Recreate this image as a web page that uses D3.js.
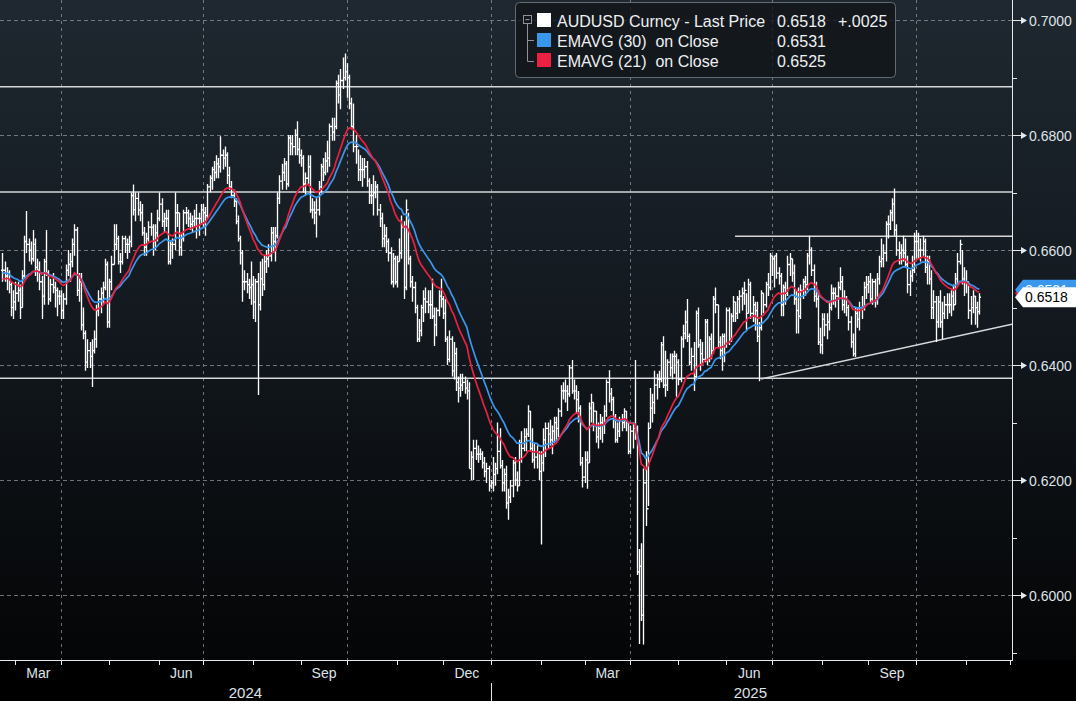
<!DOCTYPE html>
<html><head><meta charset="utf-8">
<script src="https://cdn.jsdelivr.net/npm/d3@7"></script>
<style>html,body{margin:0;padding:0;background:#000;overflow:hidden}text{font-family:"Liberation Sans",Arial,sans-serif;white-space:pre}</style>
</head><body><svg id="c" width="1076" height="701"></svg>
<script>
// ---- DATA (AUDUSD daily bars, pips x1e-4), weekdays starting 2024-02-22 ----
const startDate = "2024-02-22";
const highs = [
6595,6580,
6570,6565,6545,6530,6545, 6545,6540,6565,6625,6668, 6620,6615,6635,6620,6585, 6580,6555,6585,6635,6565,
6550,6560,6545,6535,6530, 6530,6525,6575,6600,6595, 6620,6645,6640,6560,6560, 6500,6460,6445,6440,6445,
6460,6505,6530,6535,6545, 6585,6580,6550,6590,6645, 6645,6625,6595,6625,6625, 6620,6625,6700,6714,6700,
6700,6685,6680,6640,6630, 6650,6665,6645,6645,6670, 6700,6690,6665,6670,6670, 6615,6620,6700,6680,6665,
6630,6670,6675,6670,6665, 6660,6670,6680,6665,6680, 6680,6675,6715,6730,6745, 6755,6765,6760,6798,6775,
6780,6770,6745,6720,6705, 6690,6660,6625,6600,6565, 6560,6550,6580,6555,6550, 6560,6580,6585,6590,6600,
6610,6640,6640,6640,6700, 6730,6750,6760,6755,6800, 6800,6800,6810,6824,6795, 6775,6765,6735,6765,6765,
6690,6685,6690,6720,6750, 6760,6770,6790,6820,6830, 6830,6895,6905,6915,6935, 6942,6925,6905,6865,6855,
6800,6775,6765,6760,6760, 6755,6725,6715,6730,6720, 6715,6680,6665,6645,6640, 6620,6605,6595,6590,6590,
6620,6660,6650,6688,6665, 6590,6555,6545,6505,6480, 6505,6530,6535,6530,6530, 6550,6500,6500,6530,6550,
6520,6515,6450,6460,6450, 6440,6430,6380,6385,6385, 6380,6375,6370,6250,6270, 6270,6260,6255,6250,6240,
6230,6225,6200,6240,6230, 6300,6290,6235,6220,6225, 6185,6200,6235,6240,6215, 6270,6285,6290,6290,6330,
6320,6290,6265,6260,6250, 6250,6290,6300,6300,6305, 6295,6310,6310,6325,6365, 6370,6375,6365,6400,6409,
6375,6365,6355,6330,6240, 6250,6250,6335,6350,6335, 6320,6300,6315,6310,6330, 6375,6391,6360,6345,6315,
6300,6310,6315,6325,6320, 6300,6295,6300,6409,6295, 6080,6090,6220,6250,6300, 6360,6350,6390,6385,6390,
6440,6450,6425,6410,6420, 6420,6425,6420,6410,6450, 6470,6495,6515,6455,6430, 6440,6495,6500,6445,6440,
6480,6480,6450,6455,6520, 6535,6505,6450,6455,6455, 6500,6500,6490,6520,6510, 6520,6530,6535,6545,6525,
6550,6545,6520,6510,6510, 6475,6530,6525,6545,6560, 6595,6590,6590,6595,6570, 6560,6540,6545,6590,6595,
6585,6575,6530,6535,6540, 6550,6555,6595,6625,6605, 6575,6545,6530,6465,6490, 6490,6490,6510,6540,6535,
6535,6545,6570,6555,6530, 6520,6505,6485,6455,6500, 6500,6510,6520,6545,6555, 6555,6560,6550,6550,6560,
6590,6620,6610,6650,6660, 6670,6690,6707,6645,6615, 6610,6625,6620,6590,6565, 6590,6630,6635,6630,6620,
6625,6620,6590,6590,6565, 6530,6520,6520,6530,6510, 6520,6525,6525,6530,6540, 6560,6595,6618,6600,6570,
6565,6545,6520,6530,6520, 6510,6525
];
const lows = [
6545,6545,
6530,6525,6485,6480,6495, 6510,6480,6500,6550,6595, 6580,6575,6580,6555,6545, 6530,6480,6505,6555,6505,
6510,6525,6500,6485,6505, 6480,6480,6505,6555,6545, 6570,6590,6520,6510,6460, 6445,6390,6395,6395,6362,
6420,6430,6485,6490,6505, 6530,6465,6465,6530,6575, 6600,6575,6560,6575,6595, 6585,6595,6605,6660,6650,
6660,6650,6625,6590,6590, 6615,6625,6590,6600,6615, 6650,6640,6630,6640,6575, 6575,6585,6600,6640,6590,
6590,6615,6645,6640,6635, 6630,6640,6620,6625,6645, 6640,6625,6655,6700,6705, 6720,6725,6725,6735,6740,
6745,6715,6705,6690,6675, 6645,6615,6575,6510,6530, 6525,6515,6505,6480,6475, 6348,6495,6520,6530,6560,
6570,6580,6595,6580,6620, 6680,6705,6720,6705,6710, 6765,6765,6765,6765,6750, 6745,6700,6695,6715,6665,
6655,6645,6622,6660,6700, 6720,6730,6735,6745,6790, 6790,6810,6855,6845,6880, 6895,6865,6845,6810,6770,
6750,6720,6720,6710,6725, 6710,6680,6680,6660,6690, 6660,6640,6605,6605,6595, 6580,6540,6535,6540,6535,
6580,6585,6515,6530,6575, 6535,6510,6490,6440,6440, 6450,6475,6490,6490,6480, 6480,6433,6450,6485,6500,
6480,6440,6400,6405,6380, 6375,6355,6335,6345,6355, 6350,6340,6220,6200,6200, 6235,6230,6235,6220,6205,
6195,6180,6185,6180,6190, 6210,6220,6180,6180,6150, 6131,6160,6170,6190,6180, 6190,6230,6250,6250,6275,
6250,6230,6220,6220,6200, 6088,6215,6240,6255,6260, 6245,6265,6270,6275,6310, 6340,6335,6320,6345,6350,
6340,6315,6300,6225,6187, 6195,6185,6230,6300,6285, 6265,6255,6270,6265,6280, 6310,6335,6320,6290,6265,
6265,6275,6285,6290,6285, 6245,6245,6255,6270,6035, 5915,5955,5914,6120,6155, 6290,6300,6315,6340,6360,
6370,6360,6345,6355,6380, 6375,6385,6345,6365,6370, 6430,6445,6440,6400,6390, 6355,6375,6430,6390,6400,
6405,6400,6405,6410,6420, 6490,6430,6410,6390,6405, 6430,6435,6440,6475,6475, 6480,6490,6495,6505,6460,
6490,6480,6475,6460,6440, 6372,6460,6490,6500,6520, 6530,6555,6535,6550,6540, 6485,6485,6505,6520,6555,
6545,6505,6455,6455,6480, 6515,6520,6530,6575,6555, 6510,6500,6435,6420,6419, 6450,6445,6460,6495,6505,
6500,6480,6530,6495,6490, 6485,6460,6430,6415,6414, 6465,6460,6480,6495,6515, 6525,6510,6505,6500,6505,
6540,6570,6570,6580,6620, 6635,6650,6625,6590,6575, 6575,6580,6570,6525,6520, 6545,6560,6585,6585,6580,
6590,6560,6540,6540,6480, 6480,6440,6465,6465,6445, 6480,6480,6490,6485,6495, 6505,6540,6575,6540,6520,
6525,6480,6470,6490,6470, 6465,6488
];
const closes = [
6565,6555,
6560,6540,6500,6510,6525, 6530,6500,6555,6615,6610, 6600,6585,6610,6570,6565, 6545,6520,6580,6560,6515,
6540,6535,6530,6520,6520, 6495,6515,6565,6575,6580, 6610,6635,6530,6545,6470, 6455,6405,6425,6415,6425,
6445,6495,6515,6525,6535, 6575,6475,6545,6575,6610, 6620,6580,6580,6620,6610, 6610,6615,6695,6670,6690,
6670,6665,6630,6605,6620, 6640,6640,6615,6630,6655, 6680,6650,6655,6655,6580, 6610,6610,6665,6665,6605,
6620,6665,6665,6655,6645, 6650,6655,6655,6655,6670, 6665,6660,6710,6725,6740, 6735,6750,6745,6765,6760,
6765,6730,6710,6695,6685, 6650,6620,6595,6545,6545, 6540,6535,6540,6510,6545, 6505,6550,6540,6580,6585,
6590,6630,6615,6625,6690, 6720,6735,6750,6715,6795, 6785,6780,6800,6775,6765, 6760,6715,6725,6745,6670,
6670,6665,6670,6710,6745, 6735,6755,6760,6815,6805, 6815,6890,6870,6895,6900, 6910,6900,6855,6815,6780,
6780,6740,6740,6740,6745, 6720,6695,6695,6700,6710, 6670,6655,6620,6625,6615, 6595,6545,6585,6545,6580,
6595,6640,6535,6670,6585, 6545,6535,6500,6445,6460, 6500,6515,6510,6505,6505, 6485,6470,6495,6520,6515,
6490,6445,6410,6445,6390, 6420,6370,6360,6365,6370, 6360,6355,6220,6240,6255, 6245,6245,6245,6230,6215,
6220,6190,6195,6210,6220, 6250,6225,6195,6210,6160, 6170,6190,6230,6200,6190, 6265,6255,6275,6280,6320,
6255,6235,6240,6260,6215, 6230,6270,6290,6280,6270, 6285,6300,6290,6320,6355, 6355,6355,6350,6395,6355,
6355,6340,6325,6230,6205, 6235,6230,6325,6335,6320, 6275,6290,6300,6295,6320, 6370,6350,6340,6310,6270,
6285,6305,6300,6320,6300, 6250,6285,6290,6290,6040, 6050,5965,6195,6150,6290, 6325,6335,6365,6375,6375,
6435,6365,6365,6405,6395, 6415,6415,6405,6375,6445, 6455,6475,6450,6405,6415, 6380,6490,6435,6420,6410,
6475,6410,6445,6425,6515, 6505,6440,6425,6450,6435, 6495,6445,6485,6510,6490, 6515,6520,6525,6530,6490,
6540,6490,6505,6495,6450, 6465,6525,6505,6540,6535, 6590,6585,6590,6560,6555, 6505,6535,6525,6575,6585,
6560,6515,6495,6485,6530, 6545,6540,6590,6600,6565, 6520,6515,6440,6435,6480, 6470,6475,6500,6525,6525,
6520,6535,6545,6505,6515, 6500,6475,6440,6420,6490, 6480,6500,6500,6535,6540, 6545,6515,6545,6515,6550,
6580,6585,6595,6645,6645, 6665,6680,6635,6600,6595, 6600,6595,6575,6540,6555, 6565,6615,6615,6600,6600,
6615,6570,6580,6550,6500, 6510,6475,6510,6475,6490, 6505,6505,6505,6520,6505, 6550,6580,6610,6550,6545,
6545,6495,6500,6520,6500, 6493,6518
];
const pipScale = 10000;
const ema21Seed = 0.6548, ema30Seed = 0.6560;   // EMA levels at the left edge
const majorTicks = [0.60, 0.62, 0.64, 0.66, 0.68, 0.70];
const minorTicks = [0.59, 0.61, 0.63, 0.65, 0.67, 0.69];
const levelLines = [0.6884, 0.6701, 0.6377];
const resistanceLine = {from: "2025-06-06", value: 0.6624};
const trendLine = [{date: "2025-06-24", value: 0.6376}, {date: "2025-12-02", value: 0.6471}];
const monthLabels = {2: "Mar", 5: "Jun", 8: "Sep", 11: "Dec"};
const legendRows = [
  {name: "AUDUSD Curncy - Last Price", value: "0.6518", change: "+.0025", color: "#ffffff"},
  {name: "EMAVG (30)  on Close", value: "0.6531", change: "", color: "#3a97ee"},
  {name: "EMAVG (21)  on Close", value: "0.6525", change: "", color: "#ec2040"}
];
const hiddenTag = {v: 0.6525, c: "#ec2040"};
const backTag = {v: 0.6531, c: "#3a97ee"};
const frontTag = {v: 0.6518, c: "#ffffff"};

// ---- build ----
const W = 1076, PLOT_R = 1012, PLOT_B = 660;
const svg = d3.select("#c");
const defs = svg.append("defs");
const g = defs.append("linearGradient").attr("id", "bg").attr("x1", 0).attr("y1", 0).attr("x2", 0).attr("y2", 1);
[["0%", "#1f2830"], ["50%", "#12181e"], ["100%", "#040506"]].forEach(s => g.append("stop").attr("offset", s[0]).attr("stop-color", s[1]));
svg.append("rect").attr("width", W).attr("height", PLOT_B).attr("fill", "url(#bg)");
svg.append("rect").attr("y", PLOT_B).attr("width", W).attr("height", 41).attr("fill", "#000");
defs.append("clipPath").attr("id", "clip").append("rect").attr("width", PLOT_R).attr("height", PLOT_B);

function weekdays(start, n) {
  const out = []; const d = new Date(start + "T00:00:00Z");
  while (out.length < n) { const w = d.getUTCDay(); if (w !== 0 && w !== 6) out.push(new Date(d)); d.setUTCDate(d.getUTCDate() + 1); }
  return out;
}
const n = closes.length;
const dates = weekdays(startDate, n + 40);
const idxOf = s => { const t = new Date(s + "T00:00:00Z").getTime(); return dates.findIndex(d => d.getTime() >= t); };
const endIdx = idxOf("2025-12-02");
const x = d3.scaleLinear().domain([0, endIdx]).range([2.4, PLOT_R]);
const y = d3.scaleLinear().domain([0.5887, 0.7035]).range([PLOT_B, 0]);

const data = closes.map((c, i) => ({
  i, h: highs[i] / pipScale, l: lows[i] / pipScale, c: c / pipScale,
  o: (i > 0 ? closes[i - 1] : closes[0]) / pipScale
}));
function ema(seed, len) {
  const a = 2 / (len + 1); let e = seed; return data.map(d => (e = a * d.c + (1 - a) * e));
}
const ema21 = ema(ema21Seed, 21), ema30 = ema(ema30Seed, 30);

// months
const monthStarts = [];
for (let i = 1; i <= endIdx; i++) if (dates[i].getUTCMonth() !== dates[i - 1].getUTCMonth()) monthStarts.push(i);
const quarterStarts = monthStarts.filter(i => dates[i].getUTCMonth() % 3 === 0);

const grid = svg.append("g").attr("stroke", "#8e959c").attr("stroke-width", 1).attr("opacity", 0.75);
grid.selectAll("line.h").data(majorTicks).join("line").attr("class", "h")
  .attr("x1", 0).attr("x2", PLOT_R).attr("y1", d => Math.round(y(d)) + 0.5).attr("y2", d => Math.round(y(d)) + 0.5)
  .attr("stroke-dasharray", "4,3");
grid.selectAll("line.v").data(quarterStarts).join("line").attr("class", "v")
  .attr("x1", d => Math.round(x(d)) + 0.5).attr("x2", d => Math.round(x(d)) + 0.5).attr("y1", 0).attr("y2", PLOT_B)
  .attr("stroke-dasharray", "3,4");

// level lines
const lv = svg.append("g").attr("stroke", "#d6d8da").attr("stroke-width", 1.6).attr("clip-path", "url(#clip)");
lv.selectAll("line.l").data(levelLines).join("line").attr("class", "l")
  .attr("x1", 0).attr("x2", PLOT_R).attr("y1", d => y(d)).attr("y2", d => y(d));
lv.append("line").attr("x1", x(idxOf(resistanceLine.from))).attr("x2", PLOT_R)
  .attr("y1", y(resistanceLine.value)).attr("y2", y(resistanceLine.value));
lv.append("line").attr("x1", x(idxOf(trendLine[0].date))).attr("y1", y(trendLine[0].value))
  .attr("x2", x(idxOf(trendLine[1].date))).attr("y2", y(trendLine[1].value));

// bars
const bx = i => Math.round(x(i)) + 0.5;
svg.append("g").attr("clip-path", "url(#clip)").append("path")
  .attr("fill", "none").attr("stroke", "#ffffff").attr("stroke-width", 1.35)
  .attr("d", data.map(d => {
    const X = bx(d.i);
    return `M${X},${y(d.h)}V${y(d.l)}M${X - 1.5},${y(d.o)}H${X}M${X},${y(d.c)}H${X + 1.5}`;
  }).join(""));

// EMA lines
const line = d3.line().x((d, i) => x(i)).y(d => y(d));
svg.append("path").datum(ema30).attr("d", line).attr("fill", "none").attr("stroke", "#3a97ee").attr("stroke-width", 1.7);
svg.append("path").datum(ema21).attr("d", line).attr("fill", "none").attr("stroke", "#ec2040").attr("stroke-width", 1.7);

// axes
const axC = "#e6e8ea";
svg.append("line").attr("x1", 0).attr("x2", PLOT_R).attr("y1", PLOT_B + 0.5).attr("y2", PLOT_B + 0.5).attr("stroke", axC);
svg.append("line").attr("x1", PLOT_R + 0.5).attr("x2", PLOT_R + 0.5).attr("y1", 0).attr("y2", PLOT_B + 1).attr("stroke", axC);
svg.selectAll("line.mt").data(monthStarts).join("line").attr("class", "mt")
  .attr("x1", d => Math.round(x(d)) + 0.5).attr("x2", d => Math.round(x(d)) + 0.5)
  .attr("y1", PLOT_B).attr("y2", PLOT_B + 5).attr("stroke", axC);
monthStarts.forEach((s, k) => {
  const m = dates[s].getUTCMonth();
  if (monthLabels[m] && k + 1 < monthStarts.length) {
    svg.append("text").attr("x", (x(s) + x(monthStarts[k + 1])) / 2).attr("y", 678)
      .attr("text-anchor", "middle").attr("fill", "#dfe3e8").attr("font-size", 14).text(monthLabels[m]);
  }
});
const janIdx = monthStarts.find(i => dates[i].getUTCMonth() === 0);
const lastTick = monthStarts[monthStarts.length - 1];
svg.append("line").attr("x1", Math.round(x(janIdx)) + 0.5).attr("x2", Math.round(x(janIdx)) + 0.5)
  .attr("y1", 683).attr("y2", 701).attr("stroke", axC);
[[dates[0].getUTCFullYear(), (0 + x(janIdx)) / 2], [dates[janIdx].getUTCFullYear(), (x(janIdx) + x(lastTick)) / 2]].forEach(t =>
  svg.append("text").attr("x", t[1]).attr("y", 698).attr("text-anchor", "middle").attr("fill", "#dfe3e8").attr("font-size", 15).text(t[0]));

// right axis ticks
svg.selectAll("line.mn").data(minorTicks).join("line").attr("class", "mn")
  .attr("x1", PLOT_R).attr("x2", PLOT_R + 5).attr("y1", d => Math.round(y(d)) + 0.5).attr("y2", d => Math.round(y(d)) + 0.5).attr("stroke", axC);
const mj = svg.selectAll("g.mj").data(majorTicks).join("g").attr("class", "mj")
  .attr("transform", d => `translate(${PLOT_R},${Math.round(y(d)) + 0.5})`);
mj.append("line").attr("x1", 0).attr("x2", 10).attr("stroke", axC);
mj.append("path").attr("d", "M9,-3.5L15,0L9,3.5Z").attr("fill", axC);
mj.append("text").attr("x", 17).attr("y", 5).attr("fill", "#dfe3e8").attr("font-size", 14).text(d => d.toFixed(4));

// price tags: red one fully covered, blue one peeking above the white last-price tag
const tagPath = "M1015,0L1023,-10H1076V10H1023Z";
svg.append("path").attr("transform", `translate(0,${y(hiddenTag.v)})`).attr("d", tagPath).attr("fill", hiddenTag.c);
const yb = y(backTag.v), yf = y(frontTag.v);
defs.append("clipPath").attr("id", "peek").append("rect").attr("x", 1010).attr("y", yb - 11).attr("width", 70).attr("height", (yf - 10) - (yb - 11));
const bt = svg.append("g").attr("transform", `translate(0,${yb})`);
bt.append("path").attr("d", tagPath).attr("fill", backTag.c);
svg.append("text").attr("clip-path", "url(#peek)").attr("x", 1025).attr("y", yb + 5).attr("font-size", 14).attr("fill", "#fff").text(backTag.v.toFixed(4));
const ft = svg.append("g").attr("transform", `translate(0,${yf})`);
ft.append("path").attr("d", tagPath).attr("fill", frontTag.c);
ft.append("text").attr("x", 1025).attr("y", 5).attr("font-size", 14).attr("fill", "#000").text(frontTag.v.toFixed(4));

// legend
const lg = svg.append("g");
lg.append("rect").attr("x", 515.5).attr("y", 2.5).attr("width", 380).attr("height", 75).attr("rx", 4)
  .attr("fill", "rgba(17,21,25,0.80)").attr("stroke", "#646a71");
lg.append("rect").attr("x", 523.5).attr("y", 15.5).attr("width", 8).attr("height", 8).attr("fill", "none").attr("stroke", "#8d9299");
lg.append("line").attr("x1", 525.5).attr("x2", 529.5).attr("y1", 19.5).attr("y2", 19.5).attr("stroke", "#8d9299");
lg.append("path").attr("d", "M527.5,24V61.5H534M527.5,40.5H534").attr("fill", "none").attr("stroke", "#8d9299");
legendRows.forEach((r, k) => {
  const by = 27 + k * 20;
  lg.append("rect").attr("x", 537).attr("y", by - 14).attr("width", 14).attr("height", 14).attr("fill", r.color);
  lg.append("text").attr("x", 557).attr("y", by).attr("font-size", 16).attr("fill", "#eef0f2").attr("xml:space", "preserve").text(r.name);
  lg.append("text").attr("x", 777).attr("y", by).attr("font-size", 16).attr("fill", "#eef0f2").text(r.value);
  if (r.change) lg.append("text").attr("x", 838).attr("y", by).attr("font-size", 16).attr("fill", "#eef0f2").text(r.change);
});
</script></body></html>
